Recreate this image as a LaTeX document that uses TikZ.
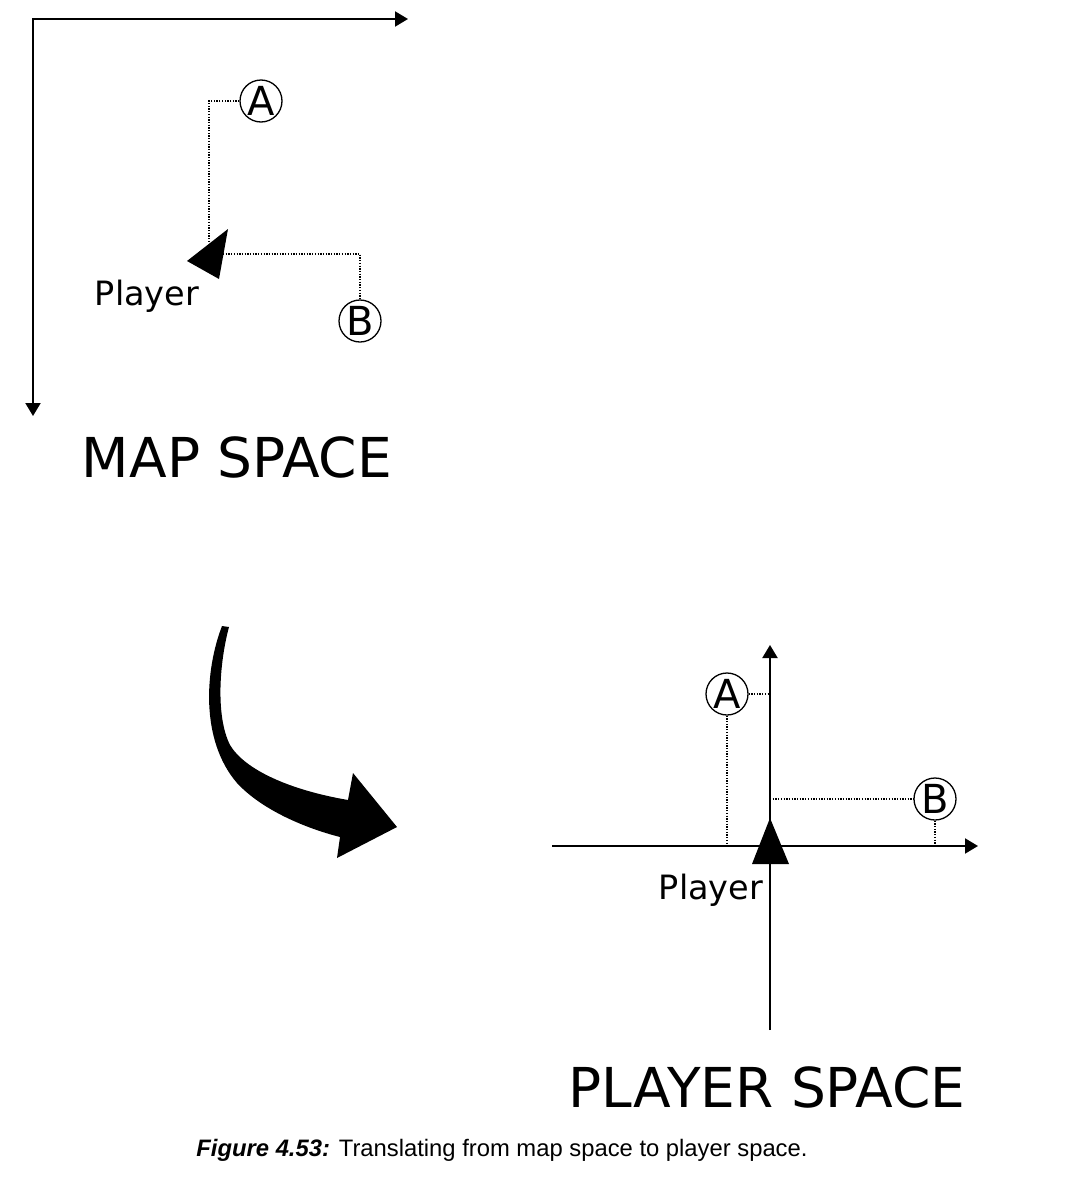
\documentclass[tikz,border=0pt]{standalone}
\usepackage{fontspec}
\setmainfont{DejaVu Sans}
\newfontfamily\captionfont{Liberation Sans}
\usetikzlibrary{
  arrows.meta,
  calc
}
\definecolor{figInk}{HTML}{000000}
\tikzset{
  every node/.style={text=figInk},
  axisline/.style={
    draw=figInk,
    line width=2pt,
    -{Triangle[length=13pt,width=15pt]}
  },
  guide/.style={
    draw=figInk,
    line width=1.3pt,
    dash pattern=on 1.3pt off 1.4pt
  },
  marker/.style={
    circle,
    draw=figInk,
    line width=1.3pt,
    fill=white,
    minimum size=42pt,
    inner sep=0pt,
    font=\fontsize{40}{40}\selectfont
  },
  playerlabel/.style={
    anchor=base,
    inner sep=0pt,
    font=\fontsize{33.5}{36}\selectfont
  },
  spacelabel/.style={
    anchor=base,
    inner sep=0pt,
    font=\fontsize{55}{60}\selectfont
  },
  figcaption/.style={
    anchor=base,
    inner sep=0pt,
    font=\captionfont\fontsize{23.8}{28}\selectfont
  }
}

\begin{document}
\begin{tikzpicture}[x=1pt,y=-1pt]
  \useasboundingbox (0,0) rectangle (1080,1186);

  % map space
  \coordinate (mo) at (33,19);
  \coordinate (mx) at (408,19);
  \coordinate (my) at (33,416);
  \draw[axisline, {Triangle[length=13pt,width=15pt]}-{Triangle[length=13pt,width=15pt]}]
    (my) -- (mo) -- (mx);

  \fill[figInk] (187,261) -- (228,229) -- (219,279) -- cycle;
  \coordinate (mpA) at (209,243);
  \coordinate (mpB) at (223,254);

  \node[marker] (mA) at (261,101) {A};
  \node[marker] (mB) at (360,321) {B};
  \draw[guide] (mA.west) -| (mpA);
  \draw[guide] (mpB) -| (mB.north);

  \node[playerlabel] (mplayer) at (147,305) {Player};
  \node[spacelabel] (mtitle) at (237,477) {MAP SPACE};

  % transform arrow
  \fill[figInk] (222,626) .. controls (205,670) and (200,740) .. (237,783)
    .. controls (262,810) and (305,828) .. (340,837)
    -- (337,858) -- (397,827) -- (353,773) -- (348,800)
    .. controls (290,790) and (245,770) .. (230,745)
    .. controls (215,715) and (220,660) .. (229,627) -- cycle;

  % player space
  \coordinate (po) at (770,846);
  \coordinate (px0) at (552,846);
  \coordinate (px) at (978,846);
  \coordinate (py0) at (770,1030);
  \coordinate (py) at (770,645);
  \draw[axisline] (px0) -- (px);
  \draw[axisline] (py0) -- (py);

  \node[marker] (pA) at (727,694) {A};
  \node[marker] (pB) at (935,799) {B};
  \draw[guide] (pA.east) -- (pA.east -| po);
  \draw[guide] (pA.south) -- (pA.south |- po);
  \draw[guide] (pB.west -| po) -- (pB.west);
  \draw[guide] (pB.south) -- (pB.south |- po);

  \fill[figInk] (770,818) -- (789,864) -- (752,864) -- cycle;

  \node[playerlabel] (pplayer) at (711,899) {Player};
  \node[spacelabel] (ptitle) at (767,1107) {PLAYER SPACE};

  \node[figcaption] (caption) at (502,1156)
    {\textbf{\textit{Figure 4.53:}} Translating from map space to player space.};
\end{tikzpicture}
\end{document}
